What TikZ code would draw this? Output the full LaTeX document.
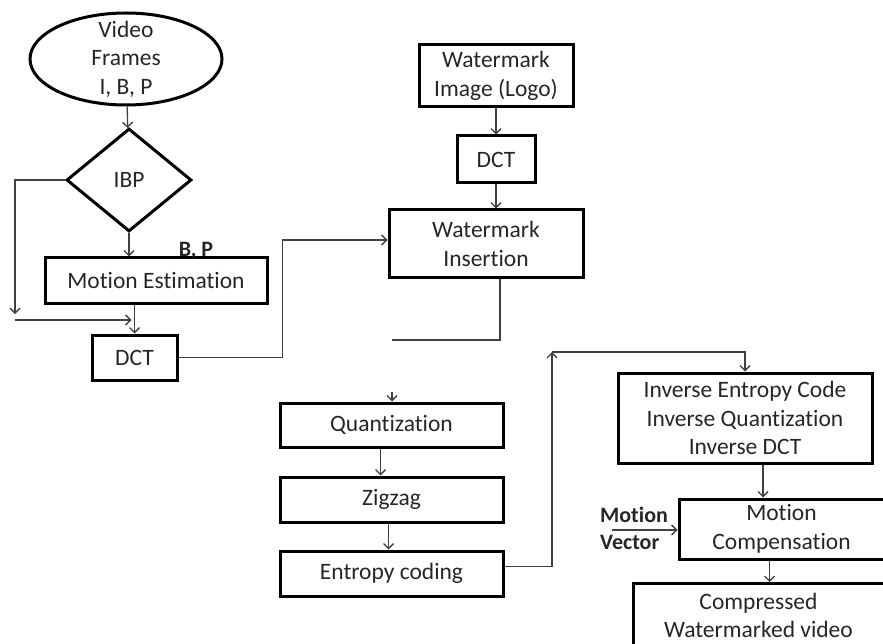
\documentclass[tikz,border=0pt]{standalone}
\usepackage{fontspec}
\setmainfont{Carlito}[Ligatures=NoCommon]
\usetikzlibrary{arrows.meta, positioning, calc, shapes.geometric}

\tikzset{
  box/.style={draw, line width=3pt, align=center, inner sep=0pt},
  tag/.style={font=\fontsize{22}{27}\selectfont\bfseries, inner sep=0pt},
  link/.style={draw=black!75, line width=1.3pt},
  arr/.style={link, -{Straight Barb[length=5pt,width=10pt,line width=1.3pt]}}
}

\begin{document}
\begin{tikzpicture}[x=1pt, y=-1pt,
  every node/.style={font=\fontsize{23.5}{28.5}\selectfont, text=black!85}]
\useasboundingbox (0,0) rectangle (883,644);
\clip (0,0) rectangle (883,644);
% Input frames and split
\node[ellipse, draw, line width=3pt, minimum width=192pt, minimum height=92pt,
      inner sep=-14pt, align=center] (frames) at (126,59) {Video\\Frames\\I, B, P};
\node[diamond, draw, line width=3pt, minimum width=125pt, minimum height=103pt,
      inner sep=0pt] (ibp) at (129,180) {IBP};
\node[box, minimum width=222pt, minimum height=45pt] (motest) at (156,280.5) {Motion Estimation};
\node[tag] (bp) at (196,251) {B, P};
\node[box, minimum width=85pt, minimum height=45pt] (dct) at (134.5,357.5) {DCT};
% Watermark branch
\node[box, minimum width=154pt, minimum height=62pt] (logo) at (496,76) {Watermark\\Image (Logo)};
\node[box, minimum width=78pt, minimum height=47pt] (wdct) at (496,159.5) {DCT};
\node[box, minimum width=194pt, minimum height=68pt] (insert) at (486,244) {Watermark\\Insertion};
% Coding chain
\node[box, minimum width=223pt, minimum height=44pt] (quant) at (391.5,425) {Quantization};
\node[box, minimum width=223pt, minimum height=45pt] (zigzag) at (391.5,499.5) {Zigzag};
\node[box, minimum width=223pt, minimum height=45pt] (entropy) at (391.5,573.5) {Entropy coding};
% Decoder
\node[box, minimum width=254pt, minimum height=90pt] (inverse) at (745,418)
  {Inverse Entropy Code\\Inverse Quantization\\Inverse DCT};
\node[box, minimum width=205pt, minimum height=60pt] (motcomp) at (781.5,529) {Motion\\Compensation};
\node[tag, align=left] (mv) at (634,528) {Motion\\Vector};
\node[box, minimum width=251pt, minimum height=64pt, anchor=north] (output) at (758.5,582)
  {Compressed\\Watermarked video};
% Free ends and bends
\coordinate (bypass) at (15,320);
\coordinate (cut) at (392,340);
\coordinate (qin) at (392,392);
\coordinate (loop) at (552,352);
\coordinate (mvin) at (612,530);
% Connectors
\draw[arr] (frames) -- (ibp);
\draw[arr] (ibp.south) -- (ibp.south |- motest.north);
\draw[arr] (ibp.west) -| ([yshift=6pt]bypass);
\draw[arr] (bypass) -- ([xshift=-3pt]bypass -| dct.north);
\draw[arr] (dct.north |- motest.south) -- (dct.north);
\draw[arr] (dct.east) -- ++(104,0) |- ([yshift=4pt]insert.west);
\draw[arr] (logo) -- (wdct);
\draw[arr] (wdct) -- (wdct |- insert.north);
\draw[link] ([xshift=14pt]insert.south) |- (cut);
\draw[arr] (qin) -- (qin |- quant.north);
\draw[arr] ([xshift=-11pt]quant.south) -- ([xshift=-11pt]zigzag.north);
\draw[arr] ([xshift=-3pt]zigzag.south) -- ([xshift=-3pt]entropy.north);
\draw[arr] ([yshift=7pt]entropy.east) -| (loop);
\draw[arr] (loop) -| (inverse.north);
\draw[arr] ([xshift=18pt]inverse.south) -- ([xshift=18pt]inverse.south |- motcomp.north);
\draw[arr] (mvin) -- (mvin -| motcomp.west);
\draw[arr] ([xshift=-12pt]motcomp.south) -- ([xshift=-12pt]motcomp.south |- output.north);
\end{tikzpicture}
\end{document}
